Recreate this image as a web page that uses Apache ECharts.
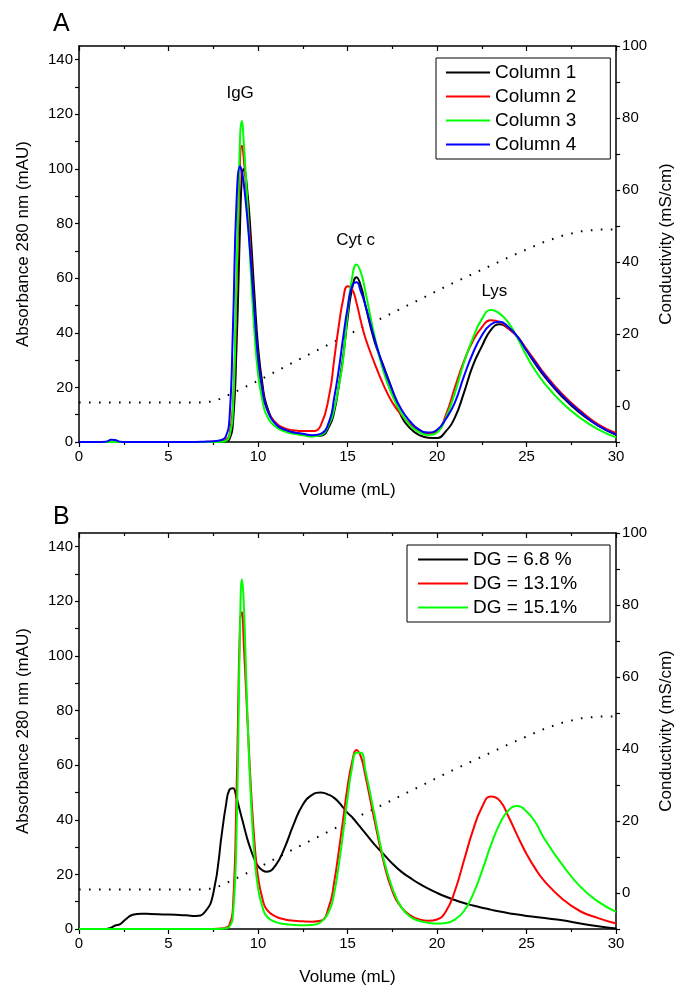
<!DOCTYPE html>
<html><head><meta charset="utf-8">
<script src="https://cdn.jsdelivr.net/npm/echarts@6/dist/echarts.min.js"></script>
<style>html,body{margin:0;padding:0;background:#fff}#c{width:683px;height:992px}</style>
</head><body><div id="c"></div>
<script>
// ---- data ----
const volume = [0,1,1.5,1.8,2,2.3,2.6,3,3.5,4, 5,6,6.5,7,7.5,8,8.2,8.4,8.6,8.8, 9,9.1,9.2,9.4,9.6,9.8,10,10.25,10.5,11, 11.5,12,12.5,13,13.5,14,14.25,14.5,14.75,15, 15.25,15.5,15.75,16,16.5,17,17.5,18,18.5,19, 19.5,20,20.5,21,21.5,22,22.5,23,23.5,24, 24.5,25,25.5,26,27,28,29,30];

const column1 = [0,0,0,0,0,0,0,0,0,0, 0,0,0,0,0,0,0.3,1,7,35, 80,97,100,92,75,54,35,21,13,6.5, 4.5,3.5,2.8,2.2,2.3,6,11,20,31,45, 56,60.3,57,50,37,28,19,9.5,5,2.5, 1.6,1.5,4,9,18,28,35,41,43.1,41.5, 38.5,33.5,28.5,24,16.5,10.5,6,2.6];
const column2 = [0,0,0,0,0,0,0,0,0,0, 0,0,0,0,0.1,0.3,0.8,2.5,14,55, 104,108.5,104,88,68,47,30,19,12,7, 5,4.3,4,4,6,18,30,42,52,57, 56,51,44,38,29,21,14.5,10,6.5,4.3, 3.2,4,10,20,29.5,37,42,44.6,44,41.5, 38.5,34,29.5,25,17.5,11.5,6.5,3.2];
const column3 = [0,0,0,0,0,0,0,0,0,0, 0,0,0,0,0,0.1,0.4,2,12,60, 112,117.5,110,88,62,40,25,15,9.5,5.5, 3.8,3,2.5,2,2.5,7,12,20,30,47, 60,65,62,55,39,26,17,10.5,6,3.6, 2.6,3.5,9,18,29,38,45,48.3,47,43.5, 38,31.5,26,21.5,14.3,8.8,4.6,1.7];
const column4 = [0,0,0.1,0.8,0.7,0.1,0,0,0,0, 0,0,0,0.1,0.3,0.8,2,8,42,88, 101,99,95,82,66,48,31,19,12,6.5, 4.5,3.5,3,2.5,3,8,16,26,38,49, 57,58.5,55,50,38,27.5,19,12,7.5,4.5, 3.5,4.5,8.5,14.5,24,32.5,39,43,44,42, 38.5,33.5,29,24.5,17,11,6,2.8];

const dg68 = [0,0,0,0.5,1.2,1.8,3.5,5.2,5.6,5.5, 5.3,5,4.8,6,13,36,45,51,51.5,48, 43,40.5,38,33,29,25.5,23,21.5,21,23.5, 30,38.5,45.5,49,50,49,48,46.5,44.5,42.5, 41,39,37,35,31,27.5,24,21,18.7,16.6, 14.8,13.2,11.8,10.6,9.5,8.6,7.8,7.1,6.4,5.8, 5.3,4.8,4.4,4,3.2,2,1,0.2];
const dg131 = [0,0,0,0,0,0,0,0,0,0, 0,0,0,0,0,0.2,0.5,1.5,8,50, 113,116,105,78,52,32,19,11,7,4.5, 3.5,3,2.8,2.7,3,9,17,28,40,52, 61,65.5,63,56,40,25,14,8,5,3.5, 3,3.5,6.5,14,25,36,44.5,48.5,47,41, 34,27.5,22,17.5,11,6.5,4,2];
const dg151 = [0,0,0,0,0,0,0,0,0,0, 0,0,0,0,0,0.1,0.3,0.8,5,35, 112,128,120,80,48,27,15,8,4.5,2.5, 1.8,1.5,1.4,1.5,2.5,7,13,23,35,48, 59,64.5,64.5,58,42,26,15,8,4.5,3, 2.3,2,2.2,3.5,6.5,12.5,21,30.5,38.5,43.5, 45,43,39,33,23.5,15.5,10,6.3];

const condVolume = [0,7,7.5,8,9,10,11,12,13,14,15,16,17,18,19,20,21,22,23,24,25,26,27,28,29,30];
const conductivity = [1,1,1.3,2.2,4.6,7,9.6,12.2,14.7,17.2,19.7,22.2,24.6,27.1,29.5,32,34.4,36.7,39,41.3,43.5,45.6,47.3,48.5,49,49];

const peakNames = ['IgG','Cyt c','Lys'];
const peakX = [9.0, 15.45, 23.2];
const peakY = [127.5, 74, 55.3];

const namesA = ['Column 1','Column 2','Column 3','Column 4'];
const namesB = ['DG = 6.8 %','DG = 13.1%','DG = 15.1%'];
const xTicks = {min:0, max:30, step:5};
// ---- chart ----
const FONT = "'Liberation Sans', Arial, sans-serif";
const pair = (xs, ys) => xs.map((x,i)=>[x, ys[i]]);
const chart = echarts.init(document.getElementById('c'), null, {renderer:'canvas'});

const grids = [
  {left:79, top:46, width:538, height:396},
  {left:79, top:533, width:538, height:396}
];
const axLine = {onZero:false, lineStyle:{color:'#000', width:1.5}};
const tickStyle = {color:'#000', width:1.2};
function xAxes(g){
  return [
    {type:'value', gridIndex:g, position:'bottom', min:xTicks.min, max:xTicks.max, interval:xTicks.step,
     axisLine:axLine, axisTick:{length:5, lineStyle:tickStyle},
     minorTick:{show:true, splitNumber:2, length:3, lineStyle:tickStyle},
     axisLabel:{color:'#000', fontSize:15, margin:7, fontFamily:FONT}, splitLine:{show:false},
     name:'Volume (mL)', nameLocation:'middle', nameGap:40,
     nameTextStyle:{color:'#000', fontSize:17, fontFamily:FONT}},
    {type:'value', gridIndex:g, position:'top', min:xTicks.min, max:xTicks.max, interval:xTicks.step,
     axisLine:axLine, axisTick:{inside:true, length:5, lineStyle:tickStyle},
     minorTick:{show:true, splitNumber:2, length:3, lineStyle:tickStyle},
     axisLabel:{show:false}, splitLine:{show:false}}
  ];
}
function yAxes(g){
  return [
    {type:'value', gridIndex:g, position:'left', min:0, max:145, interval:10,
     axisLine:{show:true, ...axLine}, axisTick:{show:true, length:4, lineStyle:tickStyle},
     axisLabel:{color:'#000', fontSize:15, margin:6, fontFamily:FONT, showMaxLabel:false,
       formatter:v => (v % 20 === 0 ? String(v) : '')},
     splitLine:{show:false},
     name:'Absorbance 280 nm (mAU)', nameLocation:'middle', nameGap:47, nameRotate:90,
     nameTextStyle:{color:'#000', fontSize:17, fontFamily:FONT}},
    {type:'value', gridIndex:g, position:'right', min:-10, max:100, interval:10,
     axisLine:{show:true, ...axLine}, axisTick:{show:true, length:4, lineStyle:tickStyle},
     axisLabel:{color:'#000', fontSize:15, margin:6, fontFamily:FONT,
       formatter:v => (v % 20 === 0 ? String(v) : '')},
     splitLine:{show:false},
     name:'Conductivity (mS/cm)', nameLocation:'middle', nameGap:34, nameRotate:90,
     nameTextStyle:{color:'#000', fontSize:17, fontFamily:FONT}}
  ];
}
function curve(name, ys, color, xi, yi){
  return {type:'line', name, data:pair(volume, ys), xAxisIndex:xi, yAxisIndex:yi,
    showSymbol:false, smooth:0.5, color,
    lineStyle:{color, width:2}, z:3, animation:false};
}
function condSeries(xi, yi){
  return {type:'line', name:'cond', data:pair(condVolume, conductivity), xAxisIndex:xi, yAxisIndex:yi,
    showSymbol:false, smooth:false, color:'#000',
    lineStyle:{color:'#000', width:2, type:[1.6, 8.4], cap:'butt'}, z:2, animation:false};
}
const annotations = {type:'scatter', name:'peaks', xAxisIndex:0, yAxisIndex:0, silent:true,
  symbolSize:0, itemStyle:{color:'#000', opacity:1},
  data: peakNames.map((n,i)=>({name:n, value:[peakX[i], peakY[i]]})),
  label:{show:true, position:'inside', formatter:'{b}', color:'#000', opacity:1, fontSize:17, fontFamily:FONT,
    textBorderWidth:0},
  emphasis:{disabled:true},
  animation:false};

const colorsA = ['#000000','#ff0000','#00ff00','#0000ff'];
const colorsB = ['#000000','#ff0000','#00ff00'];
const dataA = [column1, column2, column3, column4];
const dataB = [dg68, dg131, dg151];

const legendBase = {orient:'vertical', icon:'rect', itemHeight:2, itemGap:5,
  borderColor:'#000', borderWidth:1, borderRadius:0, backgroundColor:'#fff',
  textStyle:{color:'#000', fontSize:19, fontFamily:FONT, lineHeight:19}, selectedMode:false};

chart.setOption({
  animation:false,
  backgroundColor:'#fff',
  title:[
    {text:'A', left:48, top:7, textStyle:{fontSize:25, fontWeight:'normal', color:'#000', fontFamily:FONT}},
    {text:'B', left:48, top:500, textStyle:{fontSize:25, fontWeight:'normal', color:'#000', fontFamily:FONT}}
  ],
  grid:grids,
  xAxis:[...xAxes(0), ...xAxes(1)],
  yAxis:[...yAxes(0), ...yAxes(1)],
  legend:[
    {...legendBase, data:namesA, itemWidth:44, left:436, top:58, padding:[5,34,5,10]},
    {...legendBase, data:namesB, itemWidth:50, left:407, top:545, padding:[5,33,5,11]}
  ],
  series:[
    condSeries(0,1),
    ...dataA.map((d,i)=>curve(namesA[i], d, colorsA[i], 0, 0)),
    annotations,
    condSeries(2,3),
    ...dataB.map((d,i)=>curve(namesB[i], d, colorsB[i], 2, 2))
  ]
});
</script></body></html>
